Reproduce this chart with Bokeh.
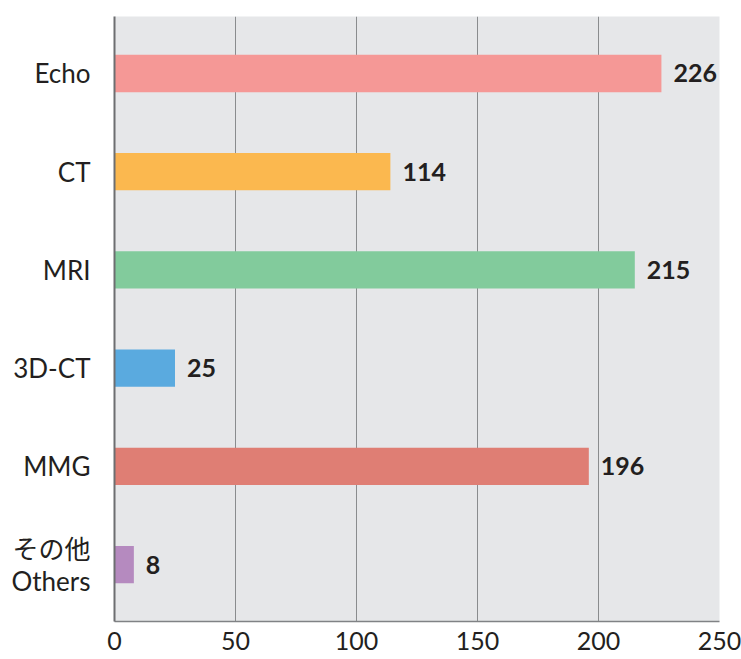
from bokeh.plotting import figure
from bokeh.models import ColumnDataSource, Range1d, FixedTicker
from bokeh.core.properties import value
from bokeh.embed import file_html
from bokeh.resources import INLINE

categories = ["Echo", "CT", "MRI", "3D-CT", "MMG", "その他\nOthers"]
counts = [226, 114, 215, 25, 196, 8]
colors = ["#F59896", "#FBB84F", "#82CB9C", "#5AAADF", "#DF7E74", "#B58ABF"]
x_ticks = [0, 50, 100, 150, 200, 250]
grid_ticks = [50, 100, 150, 200]

pos = list(range(len(categories)))
src = ColumnDataSource(dict(y=pos, v=counts, c=colors, lbl=[str(v) for v in counts]))

p = figure(width=741, height=659, output_backend="svg", toolbar_location=None,
           x_range=Range1d(0, 250), y_range=Range1d(len(categories) - 0.42, -0.58),
           min_border_left=114, min_border_right=22, min_border_top=16, min_border_bottom=38)

p.hbar(y="y", right="v", left=0, height=0.38, color="c", source=src, line_color=None)
p.text(x="v", y="y", text="lbl", source=src, x_offset=12, text_baseline="middle",
       text_align="left", text_font=value("Lato"), text_font_style="bold",
       text_font_size="25px", text_color="#231F20")

p.background_fill_color = "#E6E7E9"
p.border_fill_color = "white"
p.outline_line_color = None

p.xaxis.ticker = FixedTicker(ticks=x_ticks)
p.yaxis.ticker = FixedTicker(ticks=pos)
p.yaxis.major_label_overrides = {i: c for i, c in zip(pos, categories)}

for ax in (p.xaxis[0], p.yaxis[0]):
    ax.major_tick_line_color = None
    ax.minor_tick_line_color = None
    ax.major_label_text_font = "Lato, 'Noto Sans CJK JP'"
    ax.major_label_text_font_size = "26px"
    ax.major_label_text_color = "#231F20"
    ax.major_label_text_line_height = 1.0

p.xaxis.major_label_text_font_size = "25px"
p.yaxis.axis_line_color = "#6D6E71"
p.yaxis.axis_line_width = 2
p.xaxis.axis_line_color = "#808285"
p.xaxis.axis_line_width = 1.5
p.yaxis.major_label_standoff = 18
p.xaxis.major_label_standoff = 4

p.ygrid.grid_line_color = None
p.xgrid.ticker = FixedTicker(ticks=grid_ticks)
p.xgrid.grid_line_color = "#8A8C8E"
p.xgrid.grid_line_width = 1

open("out.html", "w").write(file_html(p, INLINE))
